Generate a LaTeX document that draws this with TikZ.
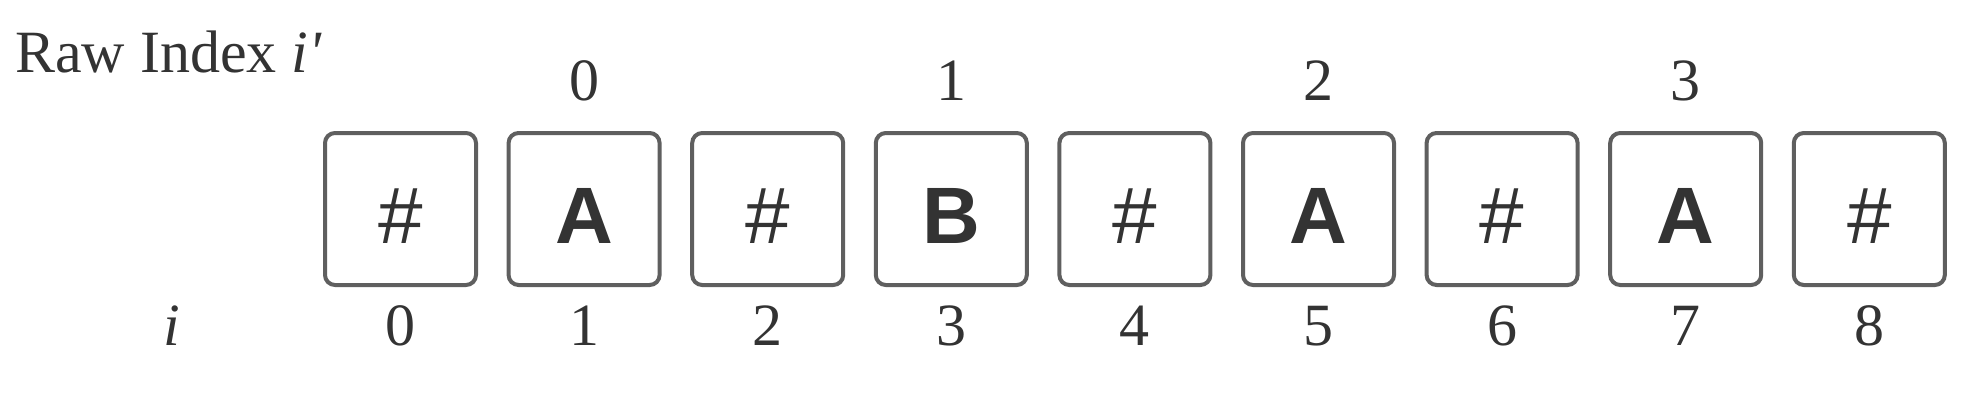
\documentclass[tikz,border=0pt]{standalone}
\usepackage{fontspec}
\setmainfont{Liberation Serif}
\newfontfamily\boxsans{Liberation Sans}
\definecolor{txt}{HTML}{333333}
\definecolor{edge}{HTML}{5F5F5F}
\tikzset{
  cell/.style={draw=edge, line width=4pt, rounded corners=10pt, minimum width=151pt, minimum height=152pt, inner sep=0pt, fill=white},
  sym/.style={text=txt, inner sep=0pt, anchor=base, font=\boxsans\fontsize{80}{96}\selectfont},
  lett/.style={sym, font=\boxsans\bfseries\fontsize{80}{96}\selectfont},
  lab/.style={text=txt, inner sep=0pt, anchor=base, font=\fontsize{60}{72}\selectfont},
}
\begin{document}
\begin{tikzpicture}[x=1pt, y=-1pt]
\useasboundingbox (0,0) rectangle (1980,410);
\node[lab, anchor=base west] (title) at (15,72.7) {Raw Index \textit{i\textquotesingle}};
\node[lab] (ilab) at (172,345) {\textit{i}};
\foreach \k/\s/\st in {0/\#/sym,1/A/lett,2/\#/sym,3/B/lett,4/\#/sym,5/A/lett,6/\#/sym,7/A/lett,8/\#/sym}{
  \node[cell] (c\k) at ({400.5+183.6*\k},209) {};
  \node[\st] (g\k) at ([yshift=-34pt]c\k.center) {\s};
  \node[lab] (b\k) at ([yshift=-136pt]c\k.center) {\k};
}
\foreach \k/\j in {1/0,3/1,5/2,7/3}{
  \node[lab] (t\j) at ([yshift=109pt]c\k.center) {\j};
}
\end{tikzpicture}
\end{document}
